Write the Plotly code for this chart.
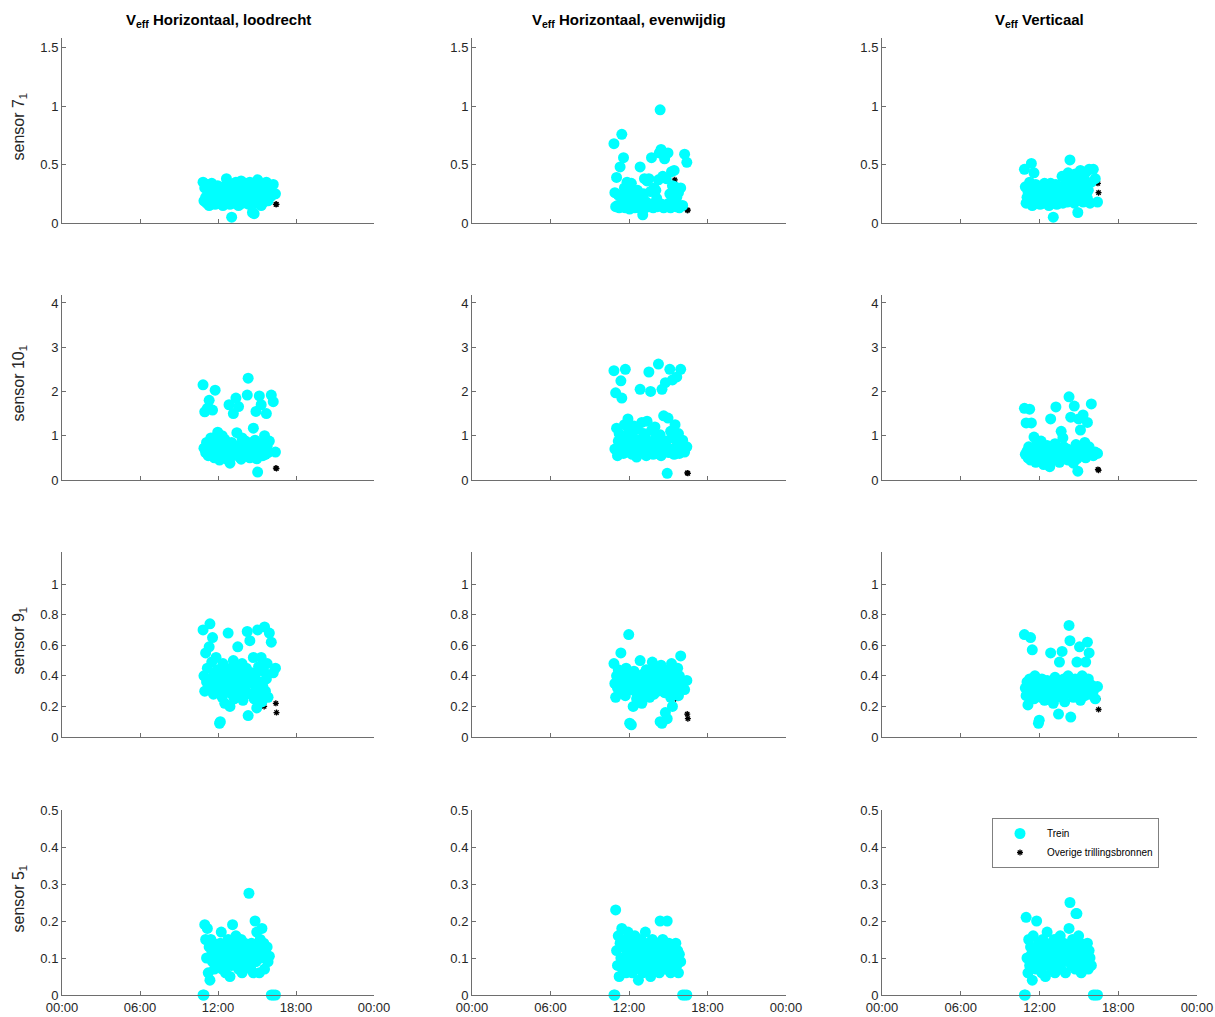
import plotly.graph_objects as go
from plotly.subplots import make_subplots

# ---------------- data ----------------
# passage times of trains (hours of the day)
train_time = [
    10.85, 10.92, 10.98, 11.05, 11.12, 11.18, 11.25, 11.32, 11.38, 11.45,
    11.52, 11.58, 11.65, 11.72, 11.78, 11.85, 11.92, 11.98, 12.05, 12.12,
    12.18, 12.25, 12.32, 12.38, 12.45, 12.52, 12.58, 12.65, 12.72, 12.78,
    12.85, 12.92, 12.98, 13.05, 13.12, 13.18, 13.25, 13.32, 13.38, 13.45,
    13.52, 13.58, 13.65, 13.72, 13.78, 13.85, 13.92, 13.98, 14.05, 14.12,
    14.18, 14.25, 14.32, 14.38, 14.45, 14.52, 14.58, 14.65, 14.72, 14.78,
    14.85, 14.92, 14.98, 15.05, 15.12, 15.18, 15.25, 15.32, 15.38, 15.45,
    15.52, 15.58, 15.65, 15.72, 15.78, 15.85, 15.95, 16.10, 16.25, 16.42,
]
# times of other vibration sources
other_time = [15.50, 15.55, 16.45, 16.50]

# sensor 7
s7_loodrecht = [
    0.35, 0.19, 0.30, 0.22, 0.17, 0.33, 0.26, 0.15, 0.28, 0.21,
    0.34, 0.18, 0.24, 0.30, 0.16, 0.27, 0.20, 0.32, 0.23, 0.17,
    0.29, 0.21, 0.26, 0.15, 0.31, 0.19, 0.25, 0.38, 0.18, 0.22,
    0.27, 0.16, 0.33, 0.05, 0.24, 0.20, 0.29, 0.17, 0.35, 0.22,
    0.26, 0.15, 0.31, 0.19, 0.36, 0.23, 0.17, 0.28, 0.21, 0.34,
    0.18, 0.25, 0.30, 0.16, 0.35, 0.22, 0.27, 0.09, 0.20, 0.08,
    0.32, 0.17, 0.24, 0.37, 0.19, 0.28, 0.22, 0.15, 0.33, 0.26,
    0.18, 0.30, 0.21, 0.35, 0.25, 0.19, 0.29, 0.23, 0.33, 0.25,
]
s7_evenwijdig = [
    0.68, 0.26, 0.14, 0.39, 0.15, 0.24, 0.13, 0.48, 0.16, 0.76,
    0.14, 0.56, 0.30, 0.13, 0.22, 0.35, 0.15, 0.27, 0.12, 0.19,
    0.34, 0.14, 0.25, 0.16, 0.13, 0.22, 0.15, 0.28, 0.13, 0.20,
    0.48, 0.16, 0.14, 0.07, 0.25, 0.38, 0.13, 0.18, 0.36, 0.15,
    0.38, 0.14, 0.27, 0.56, 0.16, 0.13, 0.30, 0.15, 0.28, 0.21,
    0.14, 0.37, 0.60, 0.97, 0.63, 0.16, 0.40, 0.13, 0.55, 0.15,
    0.38, 0.14, 0.60, 0.17, 0.25, 0.13, 0.44, 0.32, 0.15, 0.45,
    0.31, 0.14, 0.22, 0.16, 0.26, 0.13, 0.30, 0.15, 0.59, 0.52,
]
s7_verticaal = [
    0.46, 0.31, 0.17, 0.22, 0.27, 0.19, 0.35, 0.24, 0.51, 0.15,
    0.29, 0.43, 0.20, 0.33, 0.17, 0.26, 0.22, 0.30, 0.16, 0.24,
    0.19, 0.28, 0.21, 0.34, 0.17, 0.25, 0.31, 0.20, 0.15, 0.27,
    0.34, 0.22, 0.18, 0.05, 0.29, 0.24, 0.33, 0.16, 0.21, 0.27,
    0.19, 0.30, 0.23, 0.40, 0.17, 0.26, 0.21, 0.36, 0.29, 0.18,
    0.43, 0.24, 0.54, 0.31, 0.20, 0.38, 0.27, 0.17, 0.42, 0.23,
    0.29, 0.09, 0.36, 0.20, 0.45, 0.26, 0.33, 0.18, 0.40, 0.24,
    0.31, 0.44, 0.21, 0.28, 0.46, 0.17, 0.35, 0.46, 0.38, 0.18,
]
# sensor 10
s10_loodrecht = [
    2.15, 0.72, 1.54, 0.62, 0.85, 1.62, 0.55, 1.80, 0.68, 0.95,
    0.58, 1.58, 0.75, 0.50, 2.03, 0.88, 0.62, 1.08, 0.70, 0.45,
    0.82, 0.60, 1.00, 0.53, 0.72, 0.92, 0.65, 0.48, 0.78, 0.58,
    1.70, 0.38, 0.68, 0.85, 0.55, 1.50, 0.74, 0.60, 1.85, 1.07,
    0.66, 1.66, 0.52, 0.80, 0.47, 0.95, 0.63, 0.72, 0.55, 0.88,
    0.60, 1.92, 2.30, 0.75, 0.50, 0.68, 0.84, 0.57, 1.17, 0.65,
    0.90, 1.55, 0.48, 0.18, 0.72, 1.90, 0.60, 1.70, 0.82, 0.55,
    0.68, 1.00, 0.58, 1.50, 0.76, 0.62, 0.88, 1.92, 1.77, 0.63,
]
s10_evenwijdig = [
    2.47, 0.70, 1.97, 1.17, 0.55, 0.88, 1.05, 0.65, 2.24, 1.85,
    0.80, 0.60, 1.25, 2.50, 0.95, 0.72, 1.38, 1.10, 0.62, 0.85,
    1.00, 0.58, 0.78, 1.22, 0.66, 0.92, 0.52, 1.15, 0.75, 0.60,
    2.05, 0.88, 1.30, 0.62, 1.05, 0.70, 0.95, 0.55, 1.33, 0.80,
    2.44, 0.65, 2.00, 1.12, 0.78, 0.58, 0.90, 1.20, 0.68, 0.96,
    0.60, 2.62, 0.85, 1.02, 0.55, 2.05, 0.74, 1.45, 0.64, 2.20,
    0.88, 0.15, 1.40, 0.62, 2.50, 1.10, 0.70, 2.26, 0.95, 0.58,
    1.25, 0.66, 2.33, 0.80, 1.05, 0.60, 2.50, 0.90, 0.63, 0.75,
]
s10_verticaal = [
    1.62, 0.58, 1.29, 0.65, 0.50, 0.75, 1.60, 0.45, 1.29, 0.68,
    0.55, 0.97, 0.62, 0.40, 0.80, 0.52, 0.70, 0.48, 0.60, 0.88,
    0.45, 0.65, 0.35, 0.72, 0.55, 0.50, 0.78, 0.42, 0.62, 0.30,
    1.38, 0.55, 0.68, 0.45, 0.60, 0.82, 1.65, 0.50, 0.72, 0.58,
    0.40, 0.66, 1.10, 0.52, 0.95, 0.75, 0.48, 0.62, 0.56, 0.70,
    0.45, 1.88, 0.60, 1.42, 0.52, 0.68, 0.38, 1.67, 0.58, 0.80,
    0.48, 0.20, 1.38, 0.65, 1.13, 0.55, 0.72, 1.47, 0.60, 0.85,
    0.50, 0.68, 1.30, 0.58, 0.75, 0.62, 1.72, 0.55, 0.63, 0.60,
]
# sensor 9
s9_loodrecht = [
    0.70, 0.40, 0.30, 0.55, 0.36, 0.45, 0.33, 0.59, 0.74, 0.38,
    0.49, 0.65, 0.28, 0.42, 0.35, 0.52, 0.30, 0.44, 0.37, 0.09,
    0.10, 0.40, 0.26, 0.48, 0.33, 0.22, 0.38, 0.45, 0.30, 0.68,
    0.36, 0.20, 0.42, 0.28, 0.34, 0.50, 0.25, 0.39, 0.46, 0.31,
    0.59, 0.37, 0.27, 0.43, 0.33, 0.48, 0.24, 0.40, 0.35, 0.30,
    0.45, 0.69, 0.14, 0.38, 0.63, 0.28, 0.42, 0.35, 0.52, 0.25,
    0.40, 0.31, 0.19, 0.70, 0.46, 0.27, 0.36, 0.52, 0.23, 0.33,
    0.43, 0.72, 0.30, 0.38, 0.48, 0.26, 0.68, 0.62, 0.42, 0.45,
]
s9_evenwijdig = [
    0.48, 0.35, 0.26, 0.40, 0.32, 0.44, 0.29, 0.38, 0.55, 0.33,
    0.42, 0.30, 0.36, 0.27, 0.45, 0.34, 0.39, 0.67, 0.09, 0.31,
    0.08, 0.37, 0.20, 0.43, 0.30, 0.35, 0.25, 0.40, 0.33, 0.28,
    0.50, 0.36, 0.22, 0.41, 0.31, 0.38, 0.27, 0.44, 0.34, 0.30,
    0.39, 0.26, 0.43, 0.32, 0.49, 0.35, 0.28, 0.41, 0.33, 0.37,
    0.30, 0.45, 0.38, 0.10, 0.47, 0.09, 0.34, 0.42, 0.29, 0.16,
    0.36, 0.12, 0.44, 0.31, 0.40, 0.26, 0.48, 0.20, 0.35, 0.42,
    0.29, 0.38, 0.33, 0.45, 0.27, 0.40, 0.53, 0.36, 0.31, 0.37,
]
s9_verticaal = [
    0.67, 0.32, 0.27, 0.36, 0.21, 0.30, 0.38, 0.65, 0.29, 0.57,
    0.34, 0.25, 0.40, 0.31, 0.28, 0.36, 0.09, 0.11, 0.33, 0.26,
    0.38, 0.30, 0.35, 0.24, 0.32, 0.29, 0.37, 0.27, 0.34, 0.31,
    0.55, 0.28, 0.36, 0.22, 0.33, 0.39, 0.30, 0.26, 0.35, 0.15,
    0.49, 0.31, 0.27, 0.56, 0.34, 0.38, 0.23, 0.32, 0.36, 0.29,
    0.40, 0.73, 0.63, 0.13, 0.30, 0.35, 0.26, 0.33, 0.38, 0.28,
    0.49, 0.31, 0.36, 0.59, 0.24, 0.33, 0.40, 0.29, 0.35, 0.27,
    0.49, 0.32, 0.62, 0.38, 0.55, 0.28, 0.34, 0.30, 0.25, 0.33,
]
# sensor 5
s5_loodrecht = [
    0, 0, 0.19, 0.15, 0.10, 0.18, 0.06, 0.13, 0.04, 0.15,
    0.12, 0.09, 0.14, 0.07, 0.11, 0.10, 0.13, 0.08, 0.12, 0.09,
    0.14, 0.17, 0.07, 0.11, 0.10, 0.13, 0.06, 0.12, 0.09, 0.15,
    0.11, 0.05, 0.13, 0.08, 0.19, 0.12, 0.10, 0.14, 0.16, 0.09,
    0.11, 0.07, 0.13, 0.10, 0.15, 0.06, 0.12, 0.09, 0.14, 0.11,
    0.08, 0.13, 0.10, 0.275, 0.12, 0.07, 0.14, 0.10, 0.06, 0.12,
    0.20, 0.09, 0.17, 0.13, 0.11, 0.06, 0.15, 0.10, 0.18, 0.12,
    0.14, 0.07, 0.12, 0.11, 0.13, 0.09, 0.105, 0, 0, 0,
]
s5_evenwijdig = [
    0, 0, 0.23, 0.12, 0.08, 0.16, 0.05, 0.14, 0.10, 0.18,
    0.07, 0.13, 0.09, 0.15, 0.06, 0.11, 0.17, 0.08, 0.12, 0.10,
    0.14, 0.06, 0.11, 0.09, 0.16, 0.07, 0.13, 0.10, 0.04, 0.12,
    0.08, 0.15, 0.10, 0.06, 0.13, 0.09, 0.17, 0.07, 0.11, 0.14,
    0.08, 0.12, 0.05, 0.10, 0.15, 0.09, 0.13, 0.07, 0.11, 0.08,
    0.14, 0.10, 0.06, 0.20, 0.12, 0.08, 0.15, 0.09, 0.13, 0.07,
    0.11, 0.20, 0.08, 0.14, 0.10, 0.06, 0.12, 0.09, 0.13, 0.07,
    0.10, 0.14, 0.08, 0.12, 0.06, 0.11, 0.09, 0, 0, 0,
]
s5_verticaal = [
    0, 0, 0.21, 0.10, 0.06, 0.15, 0.08, 0.13, 0.11, 0.04,
    0.16, 0.09, 0.12, 0.07, 0.20, 0.11, 0.14, 0.08, 0.10, 0.13,
    0.06, 0.15, 0.09, 0.12, 0.05, 0.11, 0.17, 0.08, 0.13, 0.10,
    0.14, 0.07, 0.11, 0.09, 0.15, 0.06, 0.12, 0.10, 0.08, 0.13,
    0.11, 0.16, 0.07, 0.12, 0.09, 0.14, 0.10, 0.06, 0.13, 0.11,
    0.09, 0.18, 0.25, 0.12, 0.08, 0.15, 0.10, 0.13, 0.07, 0.22,
    0.22, 0.11, 0.16, 0.09, 0.14, 0.06, 0.12, 0.10, 0.08, 0.13,
    0.11, 0.09, 0.14, 0.07, 0.12, 0.10, 0.08, 0, 0, 0,
]

# other vibration sources
o7_loodrecht = [0.22, 0.25, 0.16, 0.16]
o7_evenwijdig = [0.37, 0.26, 0.11, 0.11]
o7_verticaal = [0.30, 0.22, 0.34, 0.26]
o10_loodrecht = [0.70, 0.60, 0.27, 0.26]
o10_evenwijdig = [0.80, 0.70, 0.16, 0.15]
o10_verticaal = [0.60, 0.55, 0.24, 0.22]
o9_loodrecht = [0.30, 0.20, 0.22, 0.16]
o9_evenwijdig = [0.30, 0.25, 0.15, 0.12]
o9_verticaal = [0.30, 0.28, 0.25, 0.18]
o5_loodrecht = [None, None, None, None]
o5_evenwijdig = [None, None, None, None]
o5_verticaal = [None, None, None, None]

column_titles = ["Horizontaal, loodrecht", "Horizontaal, evenwijdig", "Verticaal"]
sensor_names = ["7", "10", "9", "5"]
y_max = [1.585, 4.18, 1.21, 0.5]
y_ticks = [
    [0, 0.5, 1, 1.5],
    [0, 1, 2, 3, 4],
    [0, 0.2, 0.4, 0.6, 0.8, 1],
    [0, 0.1, 0.2, 0.3, 0.4, 0.5],
]
x_ticks = [0, 6, 12, 18, 24]
x_tick_labels = ["00:00", "06:00", "12:00", "18:00", "00:00"]

train_rows = [
    [s7_loodrecht, s7_evenwijdig, s7_verticaal],
    [s10_loodrecht, s10_evenwijdig, s10_verticaal],
    [s9_loodrecht, s9_evenwijdig, s9_verticaal],
    [s5_loodrecht, s5_evenwijdig, s5_verticaal],
]
other_rows = [
    [o7_loodrecht, o7_evenwijdig, o7_verticaal],
    [o10_loodrecht, o10_evenwijdig, o10_verticaal],
    [o9_loodrecht, o9_evenwijdig, o9_verticaal],
    [o5_loodrecht, o5_evenwijdig, o5_verticaal],
]

# ---------------- layout ----------------
# page body margin is removed by a post script, so figure fills the window
W, H = 1215, 1017
col_px = [(62, 374), (472, 786), (882, 1197)]
row_px = [(38, 223), (295, 480), (552, 737), (810, 995)]


def px_x(p):
    return p / W


def px_y(p):
    return 1 - p / H


FONT = "Liberation Sans, Arial, Helvetica, sans-serif"
AX_COLOR = "#6e6e6e"
TXT_COLOR = "#262626"

fig = make_subplots(rows=4, cols=3)

for r in range(4):
    for c in range(3):
        first = (r == 3 and c == 2)
        # other sources drawn first (train markers on top, as in the reference)
        fig.add_trace(go.Scatter(
            x=other_time, y=other_rows[r][c], mode="markers",
            name="Overige trillingsbronnen", legendrank=2,
            marker=dict(symbol="asterisk-open", color="black", size=5,
                        line=dict(width=1.3, color="black")),
            showlegend=first, cliponaxis=False,
        ), row=r + 1, col=c + 1)
        fig.add_trace(go.Scatter(
            x=train_time, y=train_rows[r][c], mode="markers", name="Trein",
            legendrank=1,
            marker=dict(color="#00FFFF", size=11, line=dict(width=0)),
            showlegend=first, cliponaxis=False,
        ), row=r + 1, col=c + 1)

for r in range(4):
    for c in range(3):
        idx = r * 3 + c + 1
        xa = "xaxis" if idx == 1 else f"xaxis{idx}"
        ya = "yaxis" if idx == 1 else f"yaxis{idx}"
        x0, x1 = col_px[c]
        y0, y1 = row_px[r]
        fig.layout[xa].update(
            domain=[px_x(x0), px_x(x1)], range=[0, 24], automargin=False,
            tickvals=x_ticks, ticktext=x_tick_labels,
            showticklabels=(r == 3), ticklabeloverflow="allow",
            showline=True, linecolor=AX_COLOR, linewidth=1,
            ticks="inside", ticklen=4, tickcolor=AX_COLOR, tickwidth=1,
            showgrid=False, zeroline=False,
            tickfont=dict(family=FONT, size=13, color=TXT_COLOR),
        )
        fig.layout[ya].update(
            domain=[px_y(y1), px_y(y0)], range=[0, y_max[r]],
            automargin=False, tickvals=y_ticks[r], ticklabeloverflow="allow",
            showline=True, linecolor=AX_COLOR, linewidth=1,
            ticks="inside", ticklen=4, tickcolor=AX_COLOR, tickwidth=1,
            showgrid=False, zeroline=False,
            tickfont=dict(family=FONT, size=13, color=TXT_COLOR),
        )

annotations = []
for c in range(3):
    x0, x1 = col_px[c]
    annotations.append(dict(
        text=f"<b>V<sub>eff</sub> {column_titles[c]}</b>",
        x=px_x((x0 + x1) / 2), y=px_y(21), xref="paper", yref="paper",
        xanchor="center", yanchor="middle", showarrow=False,
        font=dict(family=FONT, size=15, color="black"),
    ))
for r in range(4):
    y0, y1 = row_px[r]
    annotations.append(dict(
        text=f"sensor {sensor_names[r]}<sub>1</sub>",
        x=px_x(19), y=px_y((y0 + y1 - 8) / 2), xref="paper", yref="paper",
        xanchor="center", yanchor="middle", textangle=-90, showarrow=False,
        font=dict(family=FONT, size=16, color=TXT_COLOR),
    ))

fig.update_layout(
    template="none",
    width=W, height=H,
    margin=dict(l=0, r=0, t=0, b=0, autoexpand=False),
    paper_bgcolor="white", plot_bgcolor="white",
    annotations=annotations,
    font=dict(family=FONT, color=TXT_COLOR),
    hovermode=False,
    legend=dict(
        x=px_x(992), y=px_y(818), xanchor="left", yanchor="top",
        bgcolor="white", bordercolor="#808080", borderwidth=1,
        font=dict(family=FONT, size=10, color="black"),
        tracegroupgap=0, itemwidth=44,
    ),
)

fig.write_html(
    "out.html",
    config={"displayModeBar": False},
    post_script="document.body.style.margin='0';"
                "document.body.style.overflow='hidden';",
)
